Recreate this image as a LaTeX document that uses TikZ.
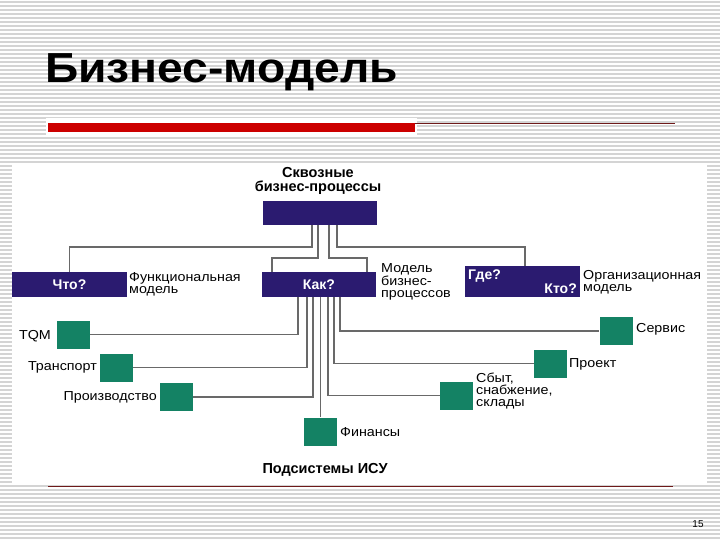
\documentclass[tikz,border=0pt]{standalone}
\usepackage{fontspec}
\setmainfont{Liberation Sans}
\newfontfamily\labfont[FakeStretch=1.1]{Liberation Sans}
\newfontfamily\titlefont[FakeStretch=1.1]{Liberation Sans}
\usetikzlibrary{calc}
\definecolor{navy}{RGB}{43,27,112}
\definecolor{grn}{RGB}{20,130,100}
\definecolor{linegray}{RGB}{105,105,105}
\definecolor{stripe}{RGB}{212,212,212}
\definecolor{barred}{RGB}{204,0,0}
\definecolor{darkred}{RGB}{110,25,25}
\tikzset{
  navybox/.style={fill=navy, draw=none, inner sep=0pt, text=white, font=\bfseries\fontsize{14}{14}\selectfont},
  boxlbl/.style={inner sep=0pt, text=white, font=\bfseries\fontsize{14}{14}\selectfont},
  grbox/.style={fill=grn, draw=none, inner sep=0pt, minimum width=33pt, minimum height=28pt},
  conn/.style={draw=linegray, line width=1.6pt},
  lab/.style={inner sep=0pt, font=\labfont\fontsize{13}{12}\selectfont, align=left},
  blab/.style={inner sep=0pt, font=\bfseries\fontsize{14.5}{14}\selectfont, align=center},
}
\begin{document}
\begin{tikzpicture}[x=1pt,y=-1pt]
\useasboundingbox (0,0) rectangle (720,540);
% background
\fill[white] (0,0) rectangle (720,540);
\foreach \yy in {1,5,...,537} {\fill[stripe] (0,\yy) rectangle (720,\yy+1.6);}
\fill[white] (12,163) rectangle (707,483);
% title area
\node[anchor=base west, inner sep=0pt, font=\titlefont\bfseries\fontsize{42}{42}\selectfont] (title) at (45,83) {Бизнес-модель};
\fill[white] (46,118) rectangle (417,137);
\fill[barred] (48,123) rectangle (415,132);
\draw[darkred, line width=1.2pt] (415,123.6) -- (675,123.6);
\draw[darkred, line width=1pt] (48,486) -- (673,486);
\node[inner sep=0pt, font=\fontsize{10}{10}\selectfont] (pnum) at (698,524.5) {15};

% top
\node[blab] (toplbl) at (318,180.5) {Сквозные\\бизнес-процессы};
\node[navybox, minimum width=114pt, minimum height=24pt] (top) at (320,213) {};
% level 2
\node[navybox, minimum width=115pt, minimum height=25pt] (what) at (69.5,284.5) {Что?};
\node[navybox, minimum width=114pt, minimum height=25pt] (how) at (319,284.5) {Как?};
\node[navybox, minimum width=115pt, minimum height=31pt] (where) at (522.5,281.5) {};
\node[boxlbl, anchor=base west] (wherelbl) at (468,279) {Где?};
\node[boxlbl, anchor=base east] (wholbl) at (577,293) {Кто?};
\node[lab, anchor=north west] (funclbl) at (129,272) {Функциональная\\модель};
\node[lab, anchor=north west] (bplbl) at (381,263) {Модель\\бизнес-\\процессов};
\node[lab, anchor=north west] (orglbl) at (583,270) {Организационная\\модель};

% subsystems
\node[grbox] (tqm) at (73.5,334.5) {};
\node[grbox] (trans) at (116.5,367.5) {};
\node[grbox] (prod) at (176.5,397) {};
\node[grbox] (fin) at (320.5,431.5) {};
\node[grbox] (sbyt) at (456.5,395.5) {};
\node[grbox] (proj) at (550.5,363.5) {};
\node[grbox] (serv) at (616,331) {};

\node[lab, anchor=east] (tqmlbl) at (51,336) {TQM};
\node[lab, anchor=east] (translbl) at (97,367) {Транспорт};
\node[lab, anchor=east] (prodlbl) at (157,397) {Производство};
\node[lab, anchor=west] (finlbl) at (340,432) {Финансы};
\node[lab, anchor=north west] (sbytlbl) at (476,373) {Сбыт,\\снабжение,\\склады};
\node[lab, anchor=west] (projlbl) at (569,364) {Проект};
\node[lab, anchor=west] (servlbl) at (636,329.5) {Сервис};
\node[blab] (isulbl) at (325,470) {Подсистемы ИСУ};

% connectors top
\draw[conn] ([xshift=-8pt]top.south) -- ++(0,22) -| (what.north);
\draw[conn] ([xshift=17pt]top.south) -- ++(0,22) -| ([xshift=2.5pt]where.north);
\draw[conn] ([xshift=-2pt]top.south) -- ++(0,33) -| ([xshift=-47pt]how.north);
\draw[conn] ([xshift=9pt]top.south) -- ++(0,33) -| ([xshift=48pt]how.north);
% connectors bottom
\draw[conn] ([xshift=-21pt]how.south) |- (tqm.east);
\draw[conn] ([xshift=-12pt]how.south) |- (trans.east);
\draw[conn] ([xshift=-6pt]how.south) |- (prod.east);
\draw[conn] (fin.north |- how.south) -- (fin.north);
\draw[conn] ([xshift=9pt]how.south) |- (sbyt.west);
\draw[conn] ([xshift=15pt]how.south) |- (proj.west);
\draw[conn] ([xshift=21pt]how.south) |- (serv.west);
\end{tikzpicture}
\end{document}
